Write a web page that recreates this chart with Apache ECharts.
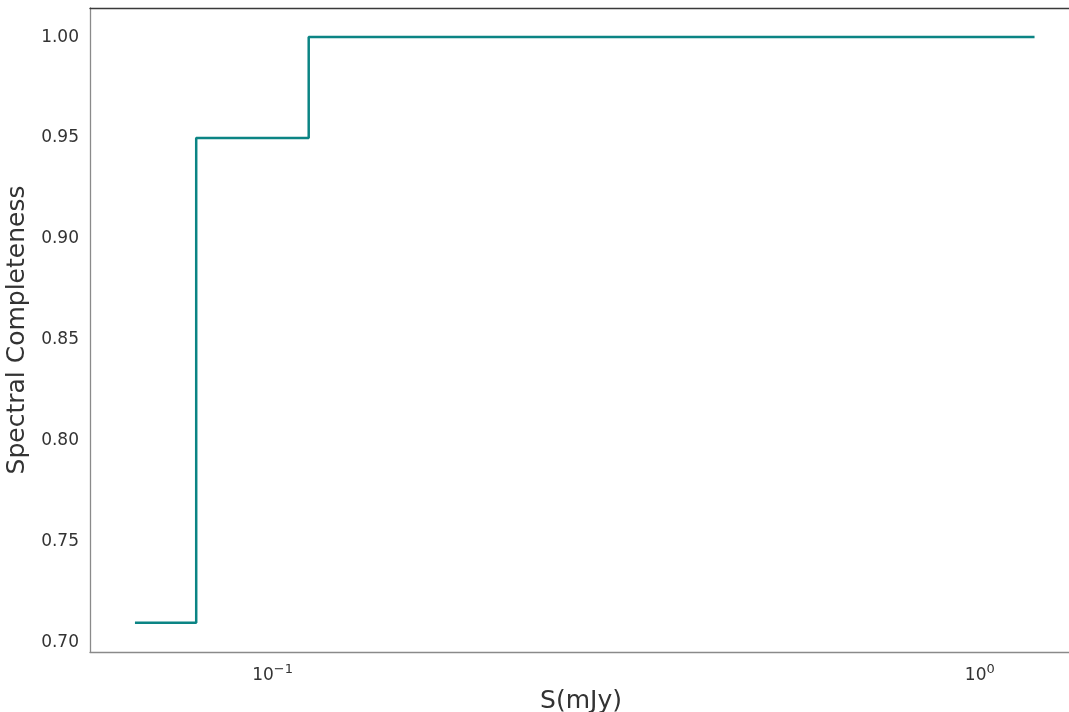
<!DOCTYPE html>
<html>
<head>
<meta charset="utf-8">
<script src="https://cdn.jsdelivr.net/npm/echarts@6/dist/echarts.min.js"></script>
<style>html,body{margin:0;padding:0;background:#fff}#c{width:1069px;height:712px}</style>
</head>
<body>
<div id="c"></div>
<script>
const fluxValues = [0.0639, 0.0780, 0.1125, 1.195];
const completeness = [0.71, 0.95, 1.00, 1.00];
const yTicks = [0.70, 0.75, 0.80, 0.85, 0.90, 0.95, 1.00];
const xTicks = [0.1, 1];

const chart = echarts.init(document.getElementById('c'), null, {renderer: 'canvas'});
chart.setOption({
  animation: false,
  grid: {left: 90, right: -3, top: 8, bottom: 60, show: false, containLabel: false, outerBoundsMode: 'none'},
  xAxis: [{
    type: 'log', logBase: 10, min: 0.0552, max: 1.35,
    name: 'S(mJy)', nameLocation: 'middle', nameGap: 32,
    nameTextStyle: {fontSize: 25, color: '#333333', fontFamily: 'DejaVu Sans'},
    axisLine: {show: true, lineStyle: {color: '#8a8a8a', width: 1.3}},
    axisTick: {show: false},
    splitLine: {show: false},
    axisLabel: {
      customValues: xTicks, margin: 11,
      formatter: function (v) { const e = Math.round(Math.log10(v)); return '10{s|' + String(e).replace('-', '\u2212') + '}'; },
      rich: {s: {fontSize: 13, verticalAlign: 'top', padding: [0,0,12,0], color: '#333333', fontFamily: 'DejaVu Sans'}},
      fontSize: 17, color: '#333333', fontFamily: 'DejaVu Sans'
    }
  }, {
    type: 'log', logBase: 10, min: 0.0552, max: 1.35, position: 'top',
    axisLine: {show: true, lineStyle: {color: '#3a3a3a', width: 1.3}},
    axisTick: {show: false}, axisLabel: {show: false}, splitLine: {show: false}
  }],
  yAxis: {
    type: 'value', min: 0.6955, max: 1.0144,
    name: 'Spectral Completeness', nameLocation: 'middle', nameGap: 54,
    nameTextStyle: {fontSize: 25, color: '#333333', fontFamily: 'DejaVu Sans'},
    axisLine: {show: true, lineStyle: {color: '#8a8a8a', width: 1.3}},
    axisTick: {show: false},
    splitLine: {show: false},
    axisLabel: {
      customValues: yTicks, margin: 11,
      formatter: function (v) { return v.toFixed(2); },
      fontSize: 17, color: '#333333', fontFamily: 'DejaVu Sans'
    }
  },
  series: [{
    type: 'line', step: 'end', showSymbol: false,
    data: fluxValues.map((x, i) => [x, completeness[i]]),
    lineStyle: {color: '#0b8484', width: 2.5}
  }]
});
</script>
</body>
</html>
